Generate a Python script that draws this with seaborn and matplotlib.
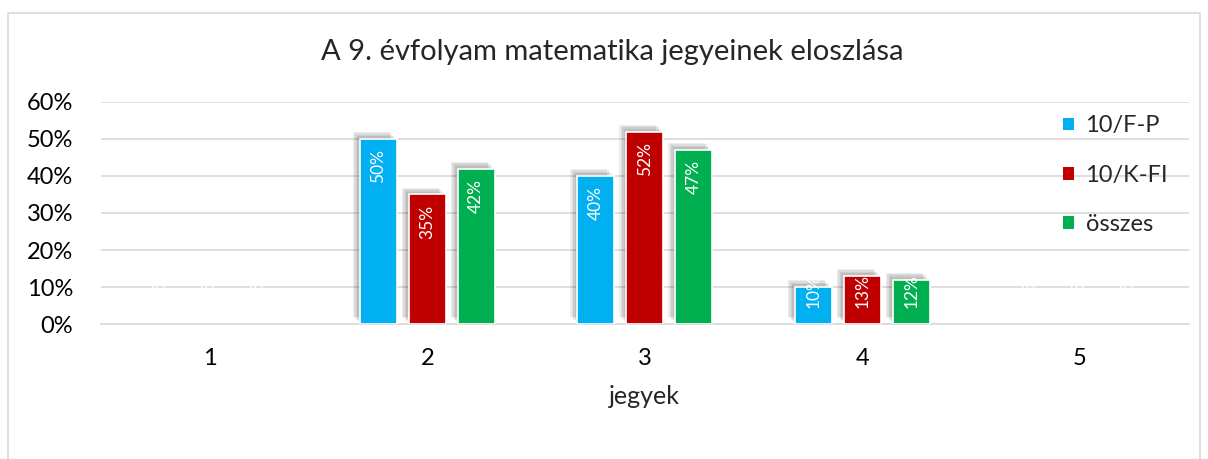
import numpy as np
import matplotlib
matplotlib.use("Agg")
import matplotlib.pyplot as plt
import matplotlib.patheffects as pe
from matplotlib.patches import Rectangle
from matplotlib.ticker import PercentFormatter
import pandas as pd
import seaborn as sns

grades = ["1", "2", "3", "4", "5"]
series = ["10/F-P", "10/K-FI", "összes"]
f_p = [0.0, 0.50, 0.40, 0.10, 0.0]
k_fi = [0.0, 0.35, 0.52, 0.13, 0.0]
total = [0.0, 0.42, 0.47, 0.12, 0.0]
colors = ["#00b0f0", "#c00000", "#00b050"]

df = pd.DataFrame({
    "jegy": grades * 3,
    "csoport": [s for s in series for _ in grades],
    "arany": f_p + k_fi + total,
})

sns.set_theme(style="white")
plt.rcParams["font.family"] = ["Lato", "DejaVu Sans"]

fig = plt.figure(figsize=(12.08, 4.59), dpi=100)
ax = fig.add_axes([0.0836, 0.294, 0.9004, 0.484])

sns.barplot(data=df, x="jegy", y="arany", hue="csoport", palette=colors,
            width=0.675, gap=0.245, edgecolor="white", linewidth=1.2,
            saturation=1, ax=ax, zorder=3, legend=False)

# soft shadow up-left (only on visible bars)
shadow = [pe.SimplePatchShadow(offset=(-d, d), shadow_rgbFace="black", alpha=0.07)
          for d in (5, 4, 3, 2)] + [pe.Normal()]
for p in ax.patches:
    if p.get_height() > 0:
        p.set_path_effects(shadow)
    else:
        p.set_linewidth(0)

# data labels
for cont in ax.containers:
    for bar in cont:
        v = bar.get_height()
        x = bar.get_x() + bar.get_width() / 2
        ax.text(x, max(v - 0.027, 0.134), f"{v * 100:.0f}%", rotation=90,
                ha="center", va="top", color="white", fontsize=12.5, zorder=5)

ax.set_ylim(0, 0.6)
ax.set_xlim(-0.5, 4.5)
ax.yaxis.set_major_formatter(PercentFormatter(1.0, decimals=0))
ax.set_yticks(np.arange(0, 0.61, 0.1))
ax.grid(axis="y", color="#d9d9d9", linewidth=1.2, zorder=0)
ax.set_axisbelow(True)
for s in ["top", "right", "left"]:
    ax.spines[s].set_visible(False)
ax.spines["bottom"].set_color("#d9d9d9")
ax.spines["bottom"].set_linewidth(1.2)
ax.tick_params(axis="both", length=0, labelsize=17, colors="black")
ax.tick_params(axis="y", pad=20)
ax.tick_params(axis="x", pad=17)
ax.set_ylabel("")
ax.set_xlabel("jegyek", fontsize=18, labelpad=12)

fig.suptitle("A 9. évfolyam matematika jegyeinek eloszlása", fontsize=21,
             y=0.915, x=0.507)

handles = [Rectangle((0, 0), 1, 1, facecolor=c, edgecolor="none") for c in colors]
leg = ax.legend(handles, series, loc="upper left", bbox_to_anchor=(0.865, 1.035),
                frameon=False, fontsize=17, handlelength=0.45, handleheight=0.45,
                handletextpad=0.5, labelspacing=1.2)

fig.patches.append(Rectangle((8 / 1208, -0.02), 1192 / 1208, 1.02 - 13 / 459,
                             transform=fig.transFigure, fill=False,
                             edgecolor="#d9d9d9", linewidth=1.2))

fig.savefig("out.png", dpi=100, facecolor="white")
